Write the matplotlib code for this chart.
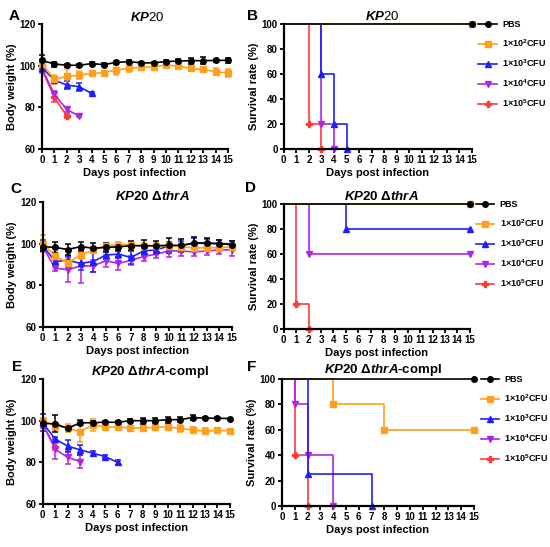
import matplotlib
matplotlib.use('Agg')
import matplotlib.pyplot as plt
from matplotlib.lines import Line2D

plt.rcParams['font.family'] = ['Liberation Sans', 'DejaVu Sans']
plt.rcParams['font.weight'] = 'bold'
plt.rcParams['mathtext.fontset'] = 'custom'
plt.rcParams['mathtext.rm'] = 'Liberation Sans:bold'
plt.rcParams['mathtext.bf'] = 'Liberation Sans:bold'
plt.rcParams['mathtext.it'] = 'Liberation Sans:italic'
plt.rcParams['mathtext.bfit'] = 'Liberation Sans:italic:bold'

days = list(range(16))

group_names = ['PBS', r'1×10$^{\mathbf{2}}$CFU', r'1×10$^{\mathbf{3}}$CFU',
               r'1×10$^{\mathbf{4}}$CFU', r'1×10$^{\mathbf{5}}$CFU']
group_colors = ['black', '#FF9F1C', '#1F1FFF', '#B026E8', '#FF3B3B']
group_markers = ['o', 's', '^', 'v', 'P']

# ---- A: KP20 body weight ----
a_pbs = [102.5, 100.8, 100.2, 100.2, 101.0, 100.5, 101.6, 101.9, 101.4, 101.3, 102.0, 102.2, 102.4, 102.4, 102.5, 102.6]
a_pbs_err = [2.5, 1.2, 0.8, 0.8, 0.6, 0.6, 0.8, 0.8, 0.6, 0.6, 0.6, 0.8, 1.4, 1.6, 0.6, 1.2]
a_e2 = [101.0, 93.4, 94.9, 95.4, 96.3, 96.6, 97.9, 98.7, 99.2, 99.5, 100.3, 99.8, 98.7, 98.2, 97.1, 96.5]
a_e2_err = [2.0, 2.0, 3.5, 2.0, 1.0, 0.8, 2.5, 1.8, 1.2, 1.2, 0.8, 1.2, 1.2, 0.8, 1.6, 1.8]
a_e3 = [99.0, 93.1, 90.7, 89.9, 86.7]
a_e3_err = [1.5, 1.0, 2.0, 2.0, 0.5]
a_e4 = [98.5, 86.2, 79.0, 75.8]
a_e4_err = [1.5, 1.8, 1.0, 0.5]
a_e5 = [98.0, 84.8, 75.8]
a_e5_err = [1.5, 2.0, 0.8]

# ---- B: KP20 survival (time, percent) ----
b_pbs_t, b_pbs_s = [0, 15], [100, 100]
b_e2_t, b_e2_s = [0, 15], [100, 100]
b_e3_t, b_e3_s = [0, 3, 4, 5], [100, 60, 20, 0]
b_e4_t, b_e4_s = [0, 3, 4], [100, 20, 0]
b_e5_t, b_e5_s = [0, 2, 3], [100, 20, 0]

# ---- C: KP20 dthrA body weight ----
c_pbs = [98.5, 98.2, 97.2, 98.6, 97.8, 98.2, 98.5, 99.0, 99.0, 99.0, 99.2, 99.2, 100.2, 100.2, 100.0, 99.5]
c_pbs_err = [2.0, 2.5, 2.8, 2.0, 2.5, 2.0, 2.0, 2.2, 3.0, 2.5, 3.5, 3.0, 3.0, 2.5, 2.0, 2.0]
c_e2 = [100.0, 94.0, 90.8, 94.5, 97.0, 99.0, 99.5, 99.5, 99.0, 99.0, 99.0, 98.5, 98.0, 98.0, 98.0, 98.5]
c_e2_err = [4.0, 2.0, 2.0, 2.0, 1.5, 1.5, 1.5, 1.5, 1.5, 1.5, 1.5, 1.5, 1.5, 1.5, 1.5, 1.5]
c_e3 = [99.0, 91.5, 92.0, 90.6, 91.4, 94.5, 95.0, 93.4, 96.5, 97.0, 98.9, 99.0, 100.5, 100.3, 100.0, 100.0]
c_e3_err = [3.0, 2.0, 2.0, 3.0, 5.0, 2.0, 2.0, 3.0, 2.0, 2.0, 2.0, 2.5, 2.0, 2.0, 2.0, 1.5]
c_e4 = [98.5, 88.2, 87.5, 89.3, 89.3, 91.8, 90.5, 92.0, 93.8, 95.0, 96.5, 96.5, 96.0, 96.5, 97.0, 97.0]
c_e4_err = [2.0, 1.5, 6.0, 8.0, 3.0, 3.0, 3.0, 2.0, 2.0, 2.0, 3.0, 2.5, 2.0, 2.0, 2.0, 3.0]

# ---- D: KP20 dthrA survival ----
d_pbs_t, d_pbs_s = [0, 15], [100, 100]
d_e2_t, d_e2_s = [0, 15], [100, 100]
d_e3_t, d_e3_s = [0, 5, 15], [100, 80, 80]
d_e4_t, d_e4_s = [0, 2, 15], [100, 60, 60]
d_e5_t, d_e5_s = [0, 1, 2], [100, 20, 0]

# ---- E: KP20 dthrA-compl body weight ----
e_pbs = [98.7, 98.5, 96.3, 99.0, 99.0, 99.3, 99.2, 100.0, 100.0, 100.0, 100.5, 100.5, 101.5, 101.2, 101.2, 101.0]
e_pbs_err = [1.0, 4.0, 1.0, 1.2, 1.0, 0.6, 0.6, 0.8, 1.5, 1.5, 1.5, 1.2, 1.0, 0.5, 0.5, 0.5]
e_e2 = [100.0, 97.5, 96.5, 94.6, 97.9, 97.0, 97.0, 96.5, 96.5, 96.8, 97.0, 96.3, 95.5, 95.0, 95.3, 95.2]
e_e2_err = [1.5, 2.0, 2.0, 5.0, 3.0, 1.5, 1.5, 1.0, 1.0, 1.2, 1.0, 1.5, 1.5, 1.5, 1.0, 0.8]
e_e3 = [99.0, 91.2, 87.8, 86.0, 84.4, 82.8, 80.0]
e_e3_err = [4.0, 1.0, 3.0, 2.5, 1.2, 0.5, 1.2]
e_e4 = [98.5, 86.3, 82.4, 80.4]
e_e4_err = [1.5, 4.8, 3.0, 3.0]
e_e5 = [98.0, 87.6]
e_e5_err = [1.5, 1.5]

# ---- F: KP20 dthrA-compl survival ----
f_pbs_t, f_pbs_s = [0, 15], [100, 100]
f_e2_t, f_e2_s = [0, 4, 8, 15], [100, 80, 60, 60]
f_e3_t, f_e3_s = [0, 2, 7], [100, 25, 0]
f_e4_t, f_e4_s = [0, 1, 2, 4], [100, 80, 40, 0]
f_e5_t, f_e5_s = [0, 1, 2], [100, 40, 0]


def style_axes(ax, ylim, yticks, ylabel):
    ax.set_xlim(0, 15)
    ax.set_ylim(*ylim)
    ax.set_xticks(days)
    ax.set_yticks(yticks)
    for s in ['top', 'right']:
        ax.spines[s].set_visible(False)
    for s in ['left', 'bottom']:
        ax.spines[s].set_linewidth(1.6)
    ax.tick_params(width=1.3, length=3, labelsize=7, pad=1.5)
    ax.set_xlabel('Days post infection', fontsize=8, fontweight='bold', labelpad=2)
    ax.set_ylabel(ylabel, fontsize=8, fontweight='bold', labelpad=2)


def weight_panel(ax, series):
    # draw from highest dose to PBS so black stays on top
    for i in reversed(range(len(series))):
        vals, errs = series[i]
        if vals is None:
            continue
        x = days[:len(vals)]
        ax.errorbar(x, vals, yerr=errs, color=group_colors[i], marker=group_markers[i],
                    markersize=4, linewidth=1.2, elinewidth=1.1, capsize=2,
                    capthick=1.1, clip_on=False)
    style_axes(ax, (60, 120), [60, 80, 100, 120], 'Body weight (%)')


def survival_panel(ax, curves):
    for i in reversed(range(len(curves))):
        t, s = curves[i]
        ax.step(t, s, where='post', color=group_colors[i], linewidth=1.2, clip_on=False)
        ax.plot(t[1:], s[1:], linestyle='none', marker=group_markers[i],
                markersize=4, color=group_colors[i], clip_on=False)
    style_axes(ax, (0, 100), [0, 20, 40, 60, 80, 100], 'Survival rate (%)')
    handles = [Line2D([], [], color=c, marker=m, markersize=4, linewidth=1.2)
               for c, m in zip(group_colors, group_markers)]
    ax.legend(handles, group_names, loc='upper left', bbox_to_anchor=(1.035, 1.03),
              frameon=False, fontsize=6.5, borderpad=0, borderaxespad=0,
              handlelength=2.0, handletextpad=0.6, labelspacing=0.92)


fig = plt.figure(figsize=(5.5, 5.47), dpi=100)

axA = fig.add_axes([0.0764, 0.7276, 0.338, 0.2285])
axB = fig.add_axes([0.516, 0.7276, 0.342, 0.2285])
axC = fig.add_axes([0.0776, 0.4022, 0.344, 0.2285])
axD = fig.add_axes([0.516, 0.3985, 0.338, 0.2285])
axE = fig.add_axes([0.0776, 0.0786, 0.3405, 0.2285])
axF = fig.add_axes([0.5127, 0.075, 0.349, 0.232])

weight_panel(axA, [(a_pbs, a_pbs_err), (a_e2, a_e2_err), (a_e3, a_e3_err),
                   (a_e4, a_e4_err), (a_e5, a_e5_err)])
survival_panel(axB, [(b_pbs_t, b_pbs_s), (b_e2_t, b_e2_s), (b_e3_t, b_e3_s),
                     (b_e4_t, b_e4_s), (b_e5_t, b_e5_s)])
weight_panel(axC, [(c_pbs, c_pbs_err), (c_e2, c_e2_err), (c_e3, c_e3_err),
                   (c_e4, c_e4_err), (None, None)])
survival_panel(axD, [(d_pbs_t, d_pbs_s), (d_e2_t, d_e2_s), (d_e3_t, d_e3_s),
                     (d_e4_t, d_e4_s), (d_e5_t, d_e5_s)])
weight_panel(axE, [(e_pbs, e_pbs_err), (e_e2, e_e2_err), (e_e3, e_e3_err),
                   (e_e4, e_e4_err), (e_e5, e_e5_err)])
survival_panel(axF, [(f_pbs_t, f_pbs_s), (f_e2_t, f_e2_s), (f_e3_t, f_e3_s),
                     (f_e4_t, f_e4_s), (f_e5_t, f_e5_s)])

# panel titles (pixel centres)
title_kp = r'$\mathit{KP}$20'
title_thra = r'$\mathbfit{KP}$20 Δ$\mathbfit{thrA}$'
title_compl = r'$\mathbfit{KP}$20 Δ$\mathbfit{thrA}$-compl'
titles = [(title_kp, 147, 17.5, 'normal'), (title_kp, 382, 17, 'normal'),
          (title_thra, 152, 197, 'bold'), (title_thra, 381, 197, 'bold'),
          (title_compl, 150, 372, 'bold'), (title_compl, 383, 370, 'bold')]
for txt, x, y, w in titles:
    fig.text(x / 550, 1 - y / 547, txt, fontsize=9.5, fontweight=w,
             ha='center', va='center')

# panel letters
for letter, (x, y) in zip('ABCDEF', [(9, 15.5), (247, 15.5), (10, 189), (245, 188),
                                     (12, 367), (247, 367)]):
    fig.text(x / 550, 1 - y / 547, letter, fontsize=11, fontweight='bold',
             ha='left', va='center')

fig.savefig('out.png', dpi=100)
